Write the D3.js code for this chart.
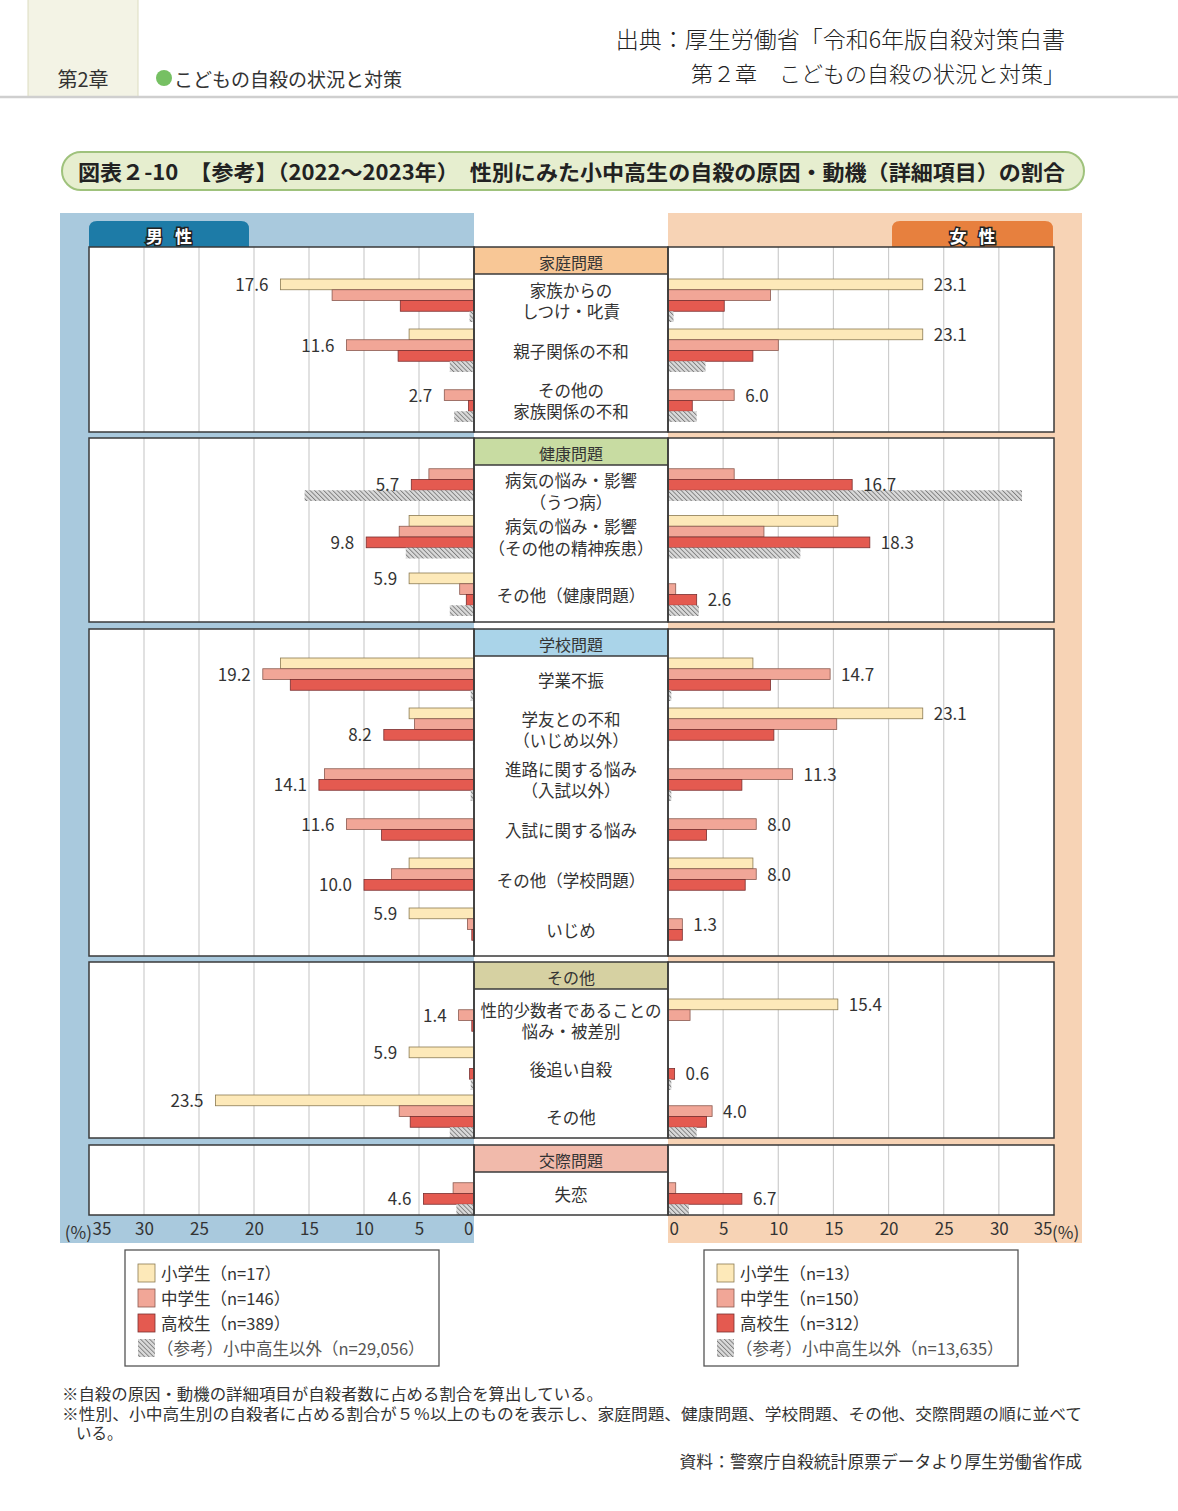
<!DOCTYPE html>
<html lang="ja">
<head>
<meta charset="UTF-8">
<title>図表2-10</title>
<style>
  body { margin: 0; background: #fff; }
  svg { display: block; font-family: "Noto Sans CJK JP", "Noto Sans", sans-serif; }
</style>
</head>
<body>
<div id="chart"></div>
<script src="https://d3js.org/d3.v7.min.js"></script>
<script>
// ---- data ----
const sections = ["家庭問題", "健康問題", "学校問題", "その他", "交際問題"];
const itemSection = [0, 0, 0, 1, 1, 1, 2, 2, 2, 2, 2, 2, 3, 3, 3, 4];
const itemLabels = [
  ["家族からの", "しつけ・叱責"],
  ["親子関係の不和"],
  ["その他の", "家族関係の不和"],
  ["病気の悩み・影響", "（うつ病）"],
  ["病気の悩み・影響", "（その他の精神疾患）"],
  ["その他（健康問題）"],
  ["学業不振"],
  ["学友との不和", "（いじめ以外）"],
  ["進路に関する悩み", "（入試以外）"],
  ["入試に関する悩み"],
  ["その他（学校問題）"],
  ["いじめ"],
  ["性的少数者であることの", "悩み・被差別"],
  ["後追い自殺"],
  ["その他"],
  ["失恋"]
];
const seriesNames = ["小学生", "中学生", "高校生", "（参考）小中高生以外"];
const maleN = ["17", "146", "389", "29,056"];
const femaleN = ["13", "150", "312", "13,635"];

// 小学生, 中学生, 高校生, 参考
const maleValues = [
  [17.6, 12.9, 6.7, 0.4],
  [5.9, 11.6, 6.9, 2.2],
  [0, 2.7, 0.5, 1.8],
  [0, 4.1, 5.7, 15.4],
  [5.9, 6.8, 9.8, 6.2],
  [5.9, 1.3, 0.7, 2.2],
  [17.6, 19.2, 16.7, 0.3],
  [5.9, 5.4, 8.2, 0.1],
  [0, 13.6, 14.1, 0.3],
  [0, 11.6, 8.4, 0],
  [5.9, 7.5, 10.0, 0],
  [5.9, 0.6, 0.2, 0],
  [0, 1.4, 0.2, 0],
  [5.9, 0, 0.4, 0.3],
  [23.5, 6.8, 5.8, 2.2],
  [0, 1.9, 4.6, 1.6]
];
const femaleValues = [
  [23.1, 9.3, 5.1, 0.5],
  [23.1, 10.0, 7.7, 3.4],
  [0, 6.0, 2.2, 2.6],
  [0, 6.0, 16.7, 32.1],
  [15.4, 8.7, 18.3, 12.0],
  [0, 0.7, 2.6, 2.8],
  [7.7, 14.7, 9.3, 0.3],
  [23.1, 15.3, 9.6, 0.1],
  [0, 11.3, 6.7, 0.3],
  [0, 8.0, 3.5, 0],
  [7.7, 8.0, 7.0, 0],
  [0, 1.3, 1.3, 0],
  [15.4, 2.0, 0, 0],
  [0, 0, 0.6, 0.3],
  [0, 4.0, 3.5, 2.6],
  [0, 0.7, 6.7, 1.9]
];
const tickValues = [0, 5, 10, 15, 20, 25, 30, 35];

// ---- layout / style ----
const W = 1178, H = 1511;
const secTop = [247, 438, 629, 962, 1145];
const secBottom = [432, 622, 956, 1138, 1215];
const secRange = [[279, 429], [458, 630.5], [658, 958], [999, 1143], [1172, 1215]];
const headerH = 27;
const secColors = ["#f8c796", "#c8dca2", "#aad4e9", "#d6d1a2", "#f1baab"];
const fills = ["#fde9b9", "#f1a697", "#e45a50", "url(#hatch)"];
const strokes = ["#8c7b52", "#8a5a50", "#7a3030", "none"];
const ink = "#333";

const xm = d3.scaleLinear().domain([0, 35]).range([474, 89]);
const xf = d3.scaleLinear().domain([0, 35]).range([668, 1054]);
const inner = d3.scaleBand().domain([0, 1, 2, 3]).range([0, 43]);
const bh = inner.bandwidth();

const svg = d3.select("#chart").append("svg")
  .attr("width", W).attr("height", H);

const defs = svg.append("defs");
const pat = defs.append("pattern")
  .attr("id", "hatch").attr("width", 3.2).attr("height", 3.2)
  .attr("patternUnits", "userSpaceOnUse")
  .attr("patternTransform", "rotate(-45)");
pat.append("rect").attr("width", 3.2).attr("height", 3.2).attr("fill", "#dadada");
pat.append("line").attr("x1", 0).attr("y1", 0).attr("x2", 0).attr("y2", 3.2)
  .attr("stroke", "#7c7c7c").attr("stroke-width", 1.8);

// ---- page header ----
svg.append("rect").attr("x", 28).attr("y", 0).attr("width", 110).attr("height", 96)
  .attr("fill", "#f3f3e5");
svg.append("line").attr("x1", 28).attr("x2", 28).attr("y1", 0).attr("y2", 96)
  .attr("stroke", "#dcdcc0");
svg.append("line").attr("x1", 138).attr("x2", 138).attr("y1", 0).attr("y2", 96)
  .attr("stroke", "#dcdcc0");
svg.append("line").attr("x1", 0).attr("x2", W).attr("y1", 97).attr("y2", 97)
  .attr("stroke", "#cfcfcf").attr("stroke-width", 2.5);
svg.append("text").attr("x", 83).attr("y", 78).attr("text-anchor", "middle")
  .attr("dominant-baseline", "central").attr("font-size", 20).attr("fill", ink)
  .text("第2章");
svg.append("circle").attr("cx", 164).attr("cy", 78).attr("r", 8).attr("fill", "#76c063");
svg.append("text").attr("x", 174).attr("y", 78).attr("dominant-baseline", "central")
  .attr("font-size", 19).attr("fill", ink).text("こどもの自殺の状況と対策");

svg.append("text").attr("x", 1065).attr("y", 38).attr("text-anchor", "end")
  .attr("dominant-baseline", "central").attr("font-size", 23).attr("fill", "#222")
  .attr("font-weight", 300).text("出典：厚生労働省「令和6年版自殺対策白書");
svg.append("text").attr("x", 1065).attr("y", 72).attr("text-anchor", "end")
  .attr("dominant-baseline", "central").attr("font-size", 22).attr("fill", "#222")
  .attr("font-weight", 300).text("第２章　こどもの自殺の状況と対策」");

// ---- title bar ----
svg.append("rect").attr("x", 62).attr("y", 152).attr("width", 1022).attr("height", 38)
  .attr("rx", 19).attr("fill", "#e6eecf").attr("stroke", "#9fc27c").attr("stroke-width", 2);
svg.append("text").attr("x", 78).attr("y", 171).attr("dominant-baseline", "central")
  .attr("font-size", 21).attr("font-weight", "bold").attr("fill", "#222")
  .attr("textLength", 987).attr("lengthAdjust", "spacingAndGlyphs")
  .text("図表２-10　【参考】（2022～2023年）　性別にみた小中高生の自殺の原因・動機（詳細項目）の割合");

// ---- panel backgrounds ----
svg.append("rect").attr("x", 60).attr("y", 213).attr("width", 414).attr("height", 1030)
  .attr("fill", "#a9c9dd");
svg.append("rect").attr("x", 668).attr("y", 213).attr("width", 414).attr("height", 1030)
  .attr("fill", "#f7d3b5");

function tab(x0, x1, color, label) {
  const y0 = 221, y1 = 247, r = 8;
  svg.append("path")
    .attr("d", `M${x0},${y1} V${y0 + r} Q${x0},${y0} ${x0 + r},${y0} H${x1 - r} Q${x1},${y0} ${x1},${y0 + r} V${y1} Z`)
    .attr("fill", color);
  svg.append("text").attr("x", (x0 + x1) / 2 + 6).attr("y", 235)
    .attr("dominant-baseline", "central").attr("text-anchor", "middle")
    .attr("font-size", 17).attr("font-weight", "bold").attr("fill", "#fff")
    .attr("stroke", "#222").attr("stroke-width", 3).attr("paint-order", "stroke")
    .attr("letter-spacing", 12)
    .text(label);
}
tab(89, 249, "#1d7ba7", "男性");
tab(892, 1053, "#e7803e", "女性");

// ---- sections ----
sections.forEach((sec, s) => {
  const t = secTop[s], b = secBottom[s];
  [[89, 474], [668, 1054], [474, 668]].forEach(([a, c]) => {
    svg.append("rect").attr("x", a).attr("y", t).attr("width", c - a).attr("height", b - t)
      .attr("fill", "#fff");
  });
  // gridlines
  tickValues.slice(1, -1).forEach(v => {
    svg.append("line").attr("x1", xm(v)).attr("x2", xm(v)).attr("y1", t).attr("y2", b)
      .attr("stroke", "#cdcdcd").attr("stroke-width", 1.2);
    svg.append("line").attr("x1", xf(v)).attr("x2", xf(v)).attr("y1", t).attr("y2", b)
      .attr("stroke", "#cdcdcd").attr("stroke-width", 1.2);
  });

  const idx = itemSection.map((d, i) => d === s ? i : -1).filter(i => i >= 0);
  const y = d3.scaleBand().domain(idx).range(secRange[s]);

  idx.forEach(i => {
    const g0 = y(i);
    // bars
    maleValues[i].forEach((v, k) => {
      if (!v) return;
      svg.append("rect").attr("x", xm(v)).attr("y", g0 + inner(k))
        .attr("width", xm(0) - xm(v)).attr("height", bh)
        .attr("fill", fills[k]).attr("stroke", strokes[k]).attr("stroke-width", 0.8);
    });
    femaleValues[i].forEach((v, k) => {
      if (!v) return;
      svg.append("rect").attr("x", xf(0)).attr("y", g0 + inner(k))
        .attr("width", xf(v) - xf(0)).attr("height", bh)
        .attr("fill", fills[k]).attr("stroke", strokes[k]).attr("stroke-width", 0.8);
    });
    // value labels on the largest of the three school groups
    const mk = d3.maxIndex(maleValues[i].slice(0, 3));
    const fk = d3.maxIndex(femaleValues[i].slice(0, 3));
    svg.append("text").attr("x", xm(maleValues[i][mk]) - 12)
      .attr("y", g0 + inner(mk) + bh / 2 - 1).attr("text-anchor", "end")
      .attr("dominant-baseline", "central").attr("font-size", 17).attr("fill", ink)
      .text(maleValues[i][mk].toFixed(1));
    svg.append("text").attr("x", xf(femaleValues[i][fk]) + 11)
      .attr("y", g0 + inner(fk) + bh / 2 - 1).attr("text-anchor", "start")
      .attr("dominant-baseline", "central").attr("font-size", 17).attr("fill", ink)
      .text(femaleValues[i][fk].toFixed(1));

    // item label
    const lines = itemLabels[i];
    const cy = Math.max(g0 + 21.5, t + headerH + 5 + lines.length * 10.5);
    lines.forEach((ln, j) => {
      svg.append("text").attr("x", 571)
        .attr("y", cy + (j - (lines.length - 1) / 2) * 21.5)
        .attr("text-anchor", "middle").attr("dominant-baseline", "central")
        .attr("font-size", 16.5).attr("fill", ink).text(ln);
    });
  });

  // header box
  svg.append("rect").attr("x", 474).attr("y", t).attr("width", 194).attr("height", headerH)
    .attr("fill", secColors[s]);
  svg.append("line").attr("x1", 474).attr("x2", 668).attr("y1", t + headerH).attr("y2", t + headerH)
    .attr("stroke", "#3a3a3a").attr("stroke-width", 1.5);
  svg.append("text").attr("x", 571).attr("y", t + headerH / 2 + 1)
    .attr("text-anchor", "middle").attr("dominant-baseline", "central")
    .attr("font-size", 16).attr("fill", ink).text(sec);

  // frames
  [[89, 474], [668, 1054], [474, 668]].forEach(([a, c]) => {
    svg.append("rect").attr("x", a).attr("y", t).attr("width", c - a).attr("height", b - t)
      .attr("fill", "none").attr("stroke", "#3a3a3a").attr("stroke-width", 1.5);
  });
});

// ---- axes ----
const axM = svg.append("g").attr("transform", "translate(0,1220)")
  .call(d3.axisBottom(xm).tickValues(tickValues).tickSize(0).tickFormat(d3.format("d")));
const axF = svg.append("g").attr("transform", "translate(0,1220)")
  .call(d3.axisBottom(xf).tickValues(tickValues).tickSize(0).tickFormat(d3.format("d")));
[axM, axF].forEach(ax => {
  ax.select(".domain").remove();
  ax.selectAll("text").attr("font-size", 17).attr("fill", ink)
    .attr("font-family", "\"Noto Sans CJK JP\", sans-serif");
});
axM.selectAll(".tick").filter(d => d === 0).select("text").attr("text-anchor", "end").attr("x", -1);
axM.selectAll(".tick").filter(d => d === 35).select("text").attr("text-anchor", "start").attr("x", 3);
axF.selectAll(".tick").filter(d => d === 0).select("text").attr("text-anchor", "start").attr("x", 1);
axF.selectAll(".tick").filter(d => d === 35).select("text").attr("text-anchor", "end").attr("x", -2);
svg.append("text").attr("x", 92).attr("y", 1231).attr("text-anchor", "end")
  .attr("dominant-baseline", "central").attr("font-size", 17).attr("fill", ink).text("(%)");
svg.append("text").attr("x", 1052).attr("y", 1231)
  .attr("dominant-baseline", "central").attr("font-size", 17).attr("fill", ink).text("(%)");

// ---- legends ----
function legend(x0, nList) {
  svg.append("rect").attr("x", x0).attr("y", 1250).attr("width", 314).attr("height", 116)
    .attr("fill", "#fff").attr("stroke", "#555").attr("stroke-width", 1.3);
  seriesNames.forEach((name, k) => {
    const cy = 1273 + k * 25;
    svg.append("rect").attr("x", x0 + 13).attr("y", cy - 9).attr("width", 17).attr("height", 18)
      .attr("fill", fills[k]).attr("stroke", k < 3 ? strokes[k] : "none").attr("stroke-width", 0.8);
    svg.append("text").attr("x", x0 + (k < 3 ? 36 : 32)).attr("y", cy).attr("dominant-baseline", "central")
      .attr("font-size", 16.5).attr("fill", k < 3 ? ink : "#555")
      .text(`${name}（n=${nList[k]}）`);
  });
}
legend(125, maleN);
legend(704, femaleN);

// ---- notes ----
const notes = [
  [62, 1393, 541, "※自殺の原因・動機の詳細項目が自殺者数に占める割合を算出している。"],
  [62, 1413, 1020, "※性別、小中高生別の自殺者に占める割合が５％以上のものを表示し、家庭問題、健康問題、学校問題、その他、交際問題の順に並べて"],
  [76, 1432, null, "いる。"]
];
notes.forEach(([x, yy, len, tx]) => {
  const el = svg.append("text").attr("x", x).attr("y", yy).attr("dominant-baseline", "central")
    .attr("font-size", 15.5).attr("fill", ink).text(tx);
  if (len) el.attr("textLength", len).attr("lengthAdjust", "spacingAndGlyphs");
});
svg.append("text").attr("x", 1082).attr("y", 1461).attr("text-anchor", "end")
  .attr("dominant-baseline", "central").attr("font-size", 16.8).attr("fill", ink)
  .text("資料：警察庁自殺統計原票データより厚生労働省作成");
</script>
</body>
</html>
